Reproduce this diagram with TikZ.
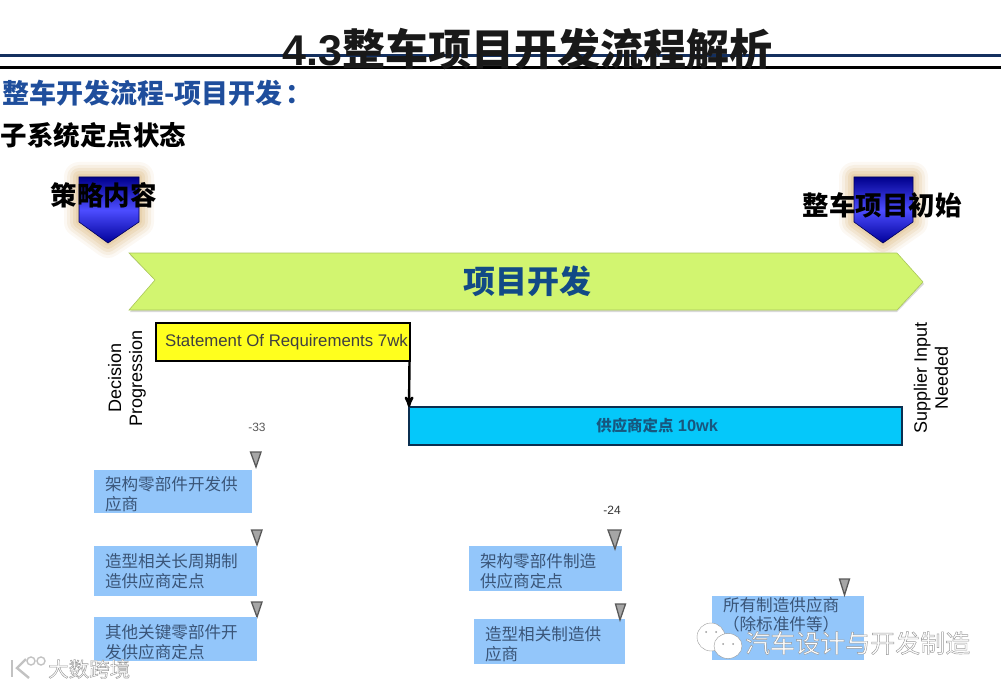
\documentclass[tikz,border=0pt]{standalone}
\usepackage{fontspec}
\usepackage{tikz}
\setmainfont{Liberation Sans}
\newfontfamily\cjk{Noto Sans CJK SC}
\usetikzlibrary{arrows}
\definecolor{navyline}{HTML}{14305F}
\definecolor{subblue}{HTML}{1F4E9C}
\definecolor{headblue}{HTML}{124A86}
\definecolor{barfill}{HTML}{D2F570}
\definecolor{barline}{HTML}{A9C65A}
\definecolor{glow}{HTML}{E3C79B}
\definecolor{reqfill}{HTML}{FFFF1E}
\definecolor{supfill}{HTML}{05C8FA}
\definecolor{supedge}{HTML}{0B2F50}
\definecolor{suptext}{HTML}{17577F}
\definecolor{partfill}{HTML}{93C6FA}
\definecolor{parttext}{HTML}{3A5578}
\definecolor{wmgray}{HTML}{9A9A9A}
\newcommand{\fsz}[1]{\fontsize{#1}{#1}\selectfont}
\newcommand{\topgap}{\rule{0pt}{20pt}}
\newcommand{\outlined}{\special{pdf:code 2 Tr 0.45 w 0.6 G 1 g}}
\newcommand{\unoutlined}{\special{pdf:code 0 Tr}}
\begin{document}
\begin{tikzpicture}[x=1pt,y=-1pt,
  >=stealth',
  head/.style={inner sep=0pt,outer sep=0pt,text=black,font=\cjk\bfseries\fsz{26.5}},
  sidetext/.style={rotate=90,align=center,inner sep=0pt,font=\fontsize{18}{21}\selectfont,text=black},
  dayno/.style={inner sep=0pt,font=\fsz{12},text=black!65},
  part/.style={fill=partfill,text=parttext,align=left,inner xsep=11pt,inner ysep=0pt,outer sep=0pt,font=\cjk\fsz{16.6},anchor=north west},
  marker/.style={draw=black!65,fill=black!35,line width=1.3pt,line join=miter},
  spear/.style={top color=blue!55!black,bottom color=blue!60!black,middle color=blue!70!white,draw=blue!35!black,semithick}]
  \useasboundingbox (0,0) rectangle (1001,687);

  % header
  \draw[navyline,line width=3pt] (0,56) -- (1001,56);
  \draw[black,line width=2.2pt] (0,67.5) -- (1001,67.5);
  \node [inner sep=0pt,text=black!90] (title) at (527.5,49) {\bfseries\fsz{43}4.3{\cjk 整车项目开发流程解析}};
  \node [head,text=subblue,anchor=west,font=\cjk\bfseries\fsz{27}] (sub) at (2,93) {整车开发流程-项目开发\hspace{3pt}：};
  \node [head,anchor=west] (state) at (1,135) {子系统定点状态};

  % badges
  \foreach \w/\o in {30/.12,24/.18,18/.25,12/.35,6/.45}{
    \draw[glow,line width=\w pt,line join=round,opacity=\o] (79,177) -- (139,177) -- (139,222) -- (108,243) -- (79,222) -- cycle;
    \draw[glow,line width=\w pt,line join=round,opacity=\o] (854,177) -- (913,177) -- (913,222) -- (883,243) -- (854,222) -- cycle;
  }
  \draw[spear] (79,177) -- (139,177) -- (139,222) -- (108,243) -- (79,222) -- cycle;
  \draw[spear] (854,177) -- (913,177) -- (913,222) -- (883,243) -- (854,222) -- cycle;
  \node [head] (strategy) at (103.5,195) {策略内容};
  \node [head] (vehicle) at (882,205) {整车项目初始};

  % phase bar
  \fill[black!15] (130,312) -- (157,282) -- (130,255) -- (897,255) -- (924,284) -- (897,312) -- cycle;
  \draw[barline,fill=barfill,semithick] (129,253) -- (155,280) -- (129,310) -- (897,310) -- (923,282) -- (897,253) -- cycle;
  \node [inner sep=0pt,text=headblue,font=\cjk\bfseries\fsz{32}] (develop) at (527,281) {项目开发};

  % timing boxes
  \node [draw=black,line width=2pt,fill=reqfill,minimum width=254pt,minimum height=38pt,inner sep=0pt,outer sep=0pt,text=black!75,font=\fsz{16.8}] (req) at (282.5,342) {\hspace{8pt}Statement Of Requirements 7wk};
  \node [draw=supedge,line width=2pt,fill=supfill,minimum width=493pt,minimum height=38pt,inner sep=0pt,outer sep=0pt,text=suptext,font=\bfseries\fsz{16.4}] (sup) at (655.5,426) {{\cjk\fsz{15.4} 供应商定点} 10wk};
  \draw[->,line width=2.4pt] (req.south east) -- (sup.north west);
  \node [sidetext] (decision) at (127,378) {Decision\\Progression};
  \node [sidetext] (needed) at (931,378) {Supplier Input\\Needed};

  % left parts
  \node [dayno] (d33) at (257,427) {-33};
  \draw[marker] (250.5,452) -- (261,452) -- (256,467) -- cycle;
  \node [part,minimum width=158pt,minimum height=43pt,text width=136pt] (p1) at (94,470) {\topgap 架构零部件开发供\\[3pt]应商};
  \draw[marker] (251.5,530) -- (262,530) -- (257,545) -- cycle;
  \node [part,minimum width=163pt,minimum height=50pt,text width=141pt] (p2) at (94,546) {造型相关长周期制\\[3pt]造供应商定点};
  \draw[marker] (251.5,602) -- (262,602) -- (257,617) -- cycle;
  \node [part,minimum width=163pt,minimum height=44pt,text width=141pt] (p3) at (94,617) {\topgap 其他关键零部件开\\[3pt]发供应商定点};

  % middle and right parts
  \node [dayno,text=black!80] (d24) at (612,510) {-24};
  \node [part,minimum width=153pt,minimum height=45pt,text width=131pt] (p4) at (469,546) {\topgap 架构零部件制造\\[3pt]供应商定点};
  \draw[marker] (608,530) -- (621,530) -- (615,549) -- cycle;
  \node [part,minimum width=151pt,minimum height=45pt,text width=129pt] (p5) at (474,619) {\topgap 造型相关制造供\\[3pt]应商};
  \draw[marker] (615.5,604) -- (625.5,604) -- (620,620) -- cycle;
  \node [part,minimum width=152pt,minimum height=64pt,text width=130pt] (p6) at (712,596) {所有制造供应商\\[2pt]（除标准件等）\\[11pt]\ };
  \draw[marker] (839.5,579) -- (849.5,579) -- (844.5,595) -- cycle;

  % watermarks
  \draw[fill=white,draw=wmgray,thin] (711,637) ellipse (14pt and 14pt);
  \draw[fill=white,draw=wmgray,thin] (728,646) ellipse (14pt and 12.5pt);
  \fill[wmgray] (706,632) circle (1pt) (716,632) circle (1pt) (723,644) circle (1pt) (733,644) circle (1pt);
  \node [inner sep=0pt,anchor=west,font=\cjk\fsz{25}] (wechat) at (745,643) {\outlined 汽车设计与开发制造\unoutlined};
  \draw[wmgray!60,line width=2.4pt] (12,660) -- (12,677);
  \draw[wmgray!60,line width=2.4pt] (26,659) -- (17,668) -- (29,678);
  \draw[wmgray!60,line width=1.4pt] (31,661) circle (4pt) (41,661) circle (4pt);
  \node [inner sep=0pt,anchor=west,font=\cjk\fsz{20.5}] (bigdata) at (48,669) {\outlined 大数跨境\unoutlined};
\end{tikzpicture}
\end{document}
